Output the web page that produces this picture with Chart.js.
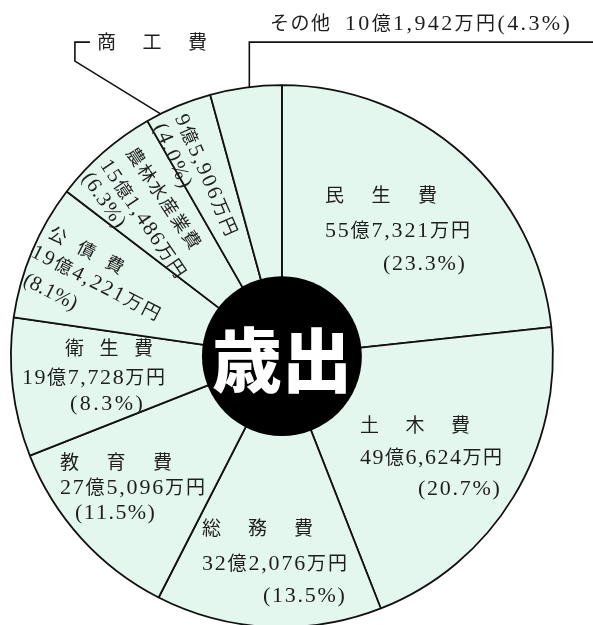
<!DOCTYPE html>
<html lang="ja">
<head>
  <meta charset="UTF-8">
  <title>歳出</title>
  <script src="https://cdn.jsdelivr.net/npm/chart.js"></script>
  <style>
    html, body { margin: 0; padding: 0; overflow: hidden; background: #fff; }
    canvas { display: block; }
  </style>
</head>
<body>
  <canvas id="saishutsu" width="593" height="740"></canvas>
  <script>
    // 歳出の内訳 (単位: 万円)
    const categories = ['民生費', '土木費', '総務費', '教育費', '衛生費', '公債費', '農林水産業費', '商工費', 'その他'];
    const amounts = [557321, 496624, 322076, 275096, 197728, 194221, 151486, 95906, 101942];
    const amountLabels = ['55億7,321万円', '49億6,624万円', '32億2,076万円', '27億5,096万円', '19億7,728万円',
                          '19億4,221万円', '15億1,486万円', '9億5,906万円', '10億1,942万円'];
    const percentLabels = ['(23.3%)', '(20.7%)', '(13.5%)', '(11.5%)', '(8.3%)', '(8.1%)', '(6.3%)', '(4.0%)', '(4.3%)'];
    const centerLabel = '歳出';

    // ラベル配置: 円の中心からのずれ [種類, dx, dy, 幅]、rot は回転角(度)、size は漢字の大きさ
    // t = 項目名, a = 金額, p = 構成比
    const labelLayout = [
      { rot: 0, size: 19, lines: [['t', 43, -161, 112], ['a', 43, -126, 145], ['p', 101, -93, 82]] },
      { rot: 0, size: 19, lines: [['t', 78, 69, 110], ['a', 78, 101, 142], ['p', 136, 132, 82]] },
      { rot: 0, size: 19, lines: [['t', -80, 172, 111], ['a', -80, 207, 145], ['p', -19, 239, 82]] },
      { rot: 0, size: 19, lines: [['t', -222, 106, 112], ['a', -222, 131, 145], ['p', -207, 156, 80]] },
      { rot: 0, size: 19, lines: [['t', -217, -8, 88], ['a', -260, 21, 143], ['p', -212, 47, 73]] },
      { rot: 27, size: 18, lines: [['t', -232, -125, 82], ['a', -249, -106, 142], ['p', -257, -78, 58]] },
      { rot: 56, size: 18, lines: [['t', -151, -207, 118], ['a', -177, -195, 138], ['p', -195, -182, 62]] },
      { rot: 66.6, size: 18, lines: [['a', -101, -241, 130], ['p', -122, -232, 68]] },
      null
    ];

    const inkColor = '#1e1e1e';

    // 文字を指定幅に均等に並べる (数字は明朝風のセリフ体、漢字はCJKフォント)
    function drawSpread(ctx, text, x, y, width, size) {
      const cjkFont = size + "px 'Noto Sans CJK JP', sans-serif";
      const digitFont = Math.round(size * 1.16) + "px 'Liberation Serif', serif";
      const chars = Array.from(text);
      const fonts = chars.map(c => (c.charCodeAt(0) < 128 ? digitFont : cjkFont));
      const widths = chars.map((c, k) => {
        ctx.font = fonts[k];
        return ctx.measureText(c).width;
      });
      const total = widths.reduce((a, b) => a + b, 0);
      const gap = chars.length > 1 ? (width - total) / (chars.length - 1) : 0;
      let px = x;
      chars.forEach((c, k) => {
        ctx.font = fonts[k];
        ctx.fillText(c, px, y + size * 0.37);
        px += widths[k] + gap;
      });
    }

    function lineText(kind, i) {
      if (kind === 't') return categories[i];
      if (kind === 'a') return amountLabels[i];
      return percentLabels[i];
    }

    const labelPlugin = {
      id: 'saishutsuLabels',
      afterDatasetsDraw(chart) {
        const ctx = chart.ctx;
        const arcs = chart.getDatasetMeta(0).data;
        const cx = arcs[0].x;
        const cy = arcs[0].y;
        const R = arcs[0].outerRadius;
        const pointOn = (arc, frac) => {
          const a = arc.startAngle + (arc.endAngle - arc.startAngle) * frac;
          return [cx + R * Math.cos(a), cy + R * Math.sin(a)];
        };

        ctx.save();

        // 中央の黒丸
        ctx.fillStyle = '#000';
        ctx.beginPath();
        ctx.arc(cx, cy, R * 0.295, 0, Math.PI * 2);
        ctx.fill();
        ctx.fillStyle = '#fff';
        ctx.font = "900 70px 'Noto Sans CJK JP', sans-serif";
        ctx.textAlign = 'center';
        ctx.textBaseline = 'middle';
        ctx.fillText(centerLabel, cx, cy + 4);

        // 扇形内のラベル
        ctx.fillStyle = inkColor;
        ctx.textAlign = 'left';
        ctx.textBaseline = 'alphabetic';
        labelLayout.forEach((layout, i) => {
          if (!layout) return;
          layout.lines.forEach(([kind, dx, dy, w]) => {
            ctx.save();
            ctx.translate(cx + dx, cy + dy);
            ctx.rotate(layout.rot * Math.PI / 180);
            drawSpread(ctx, lineText(kind, i), 0, 0, w, layout.size);
            ctx.restore();
          });
        });

        // 引き出し線: その他
        ctx.strokeStyle = '#111';
        ctx.lineWidth = 1.6;
        const other = categories.length - 1;
        const [ox, oy] = pointOn(arcs[other], 0.55);
        ctx.beginPath();
        ctx.moveTo(ox, oy);
        ctx.lineTo(ox, cy - 314);
        ctx.lineTo(chart.width, cy - 314);
        ctx.stroke();
        drawSpread(ctx, categories[other], cx - 12, cy - 333, 60, 19);
        drawSpread(ctx, amountLabels[other] + percentLabels[other], cx + 63, cy - 333, 225, 19);

        // 引き出し線: 商工費
        const shoko = 7;
        const [sx, sy] = pointOn(arcs[shoko], 0.22);
        ctx.beginPath();
        ctx.moveTo(sx, sy);
        ctx.lineTo(cx - 207, cy - 295);
        ctx.lineTo(cx - 207, cy - 314);
        ctx.lineTo(cx - 192, cy - 314);
        ctx.stroke();
        drawSpread(ctx, categories[shoko], cx - 185, cy - 314, 110, 19);

        ctx.restore();
      }
    };

    const ctx = document.getElementById('saishutsu').getContext('2d');
    const chart = new Chart(ctx, {
      type: 'pie',
      data: {
        labels: categories,
        datasets: [{
          data: amounts,
          backgroundColor: '#e4f7ef',
          borderColor: '#111',
          borderWidth: 1.8
        }]
      },
      options: {
        responsive: false,
        animation: false,
        layout: {
          padding: { left: 10, right: 39.2, top: 84, bottom: 111.7 }
        },
        plugins: {
          legend: { display: false },
          tooltip: { enabled: false }
        }
      },
      plugins: [labelPlugin]
    });
  </script>
</body>
</html>
